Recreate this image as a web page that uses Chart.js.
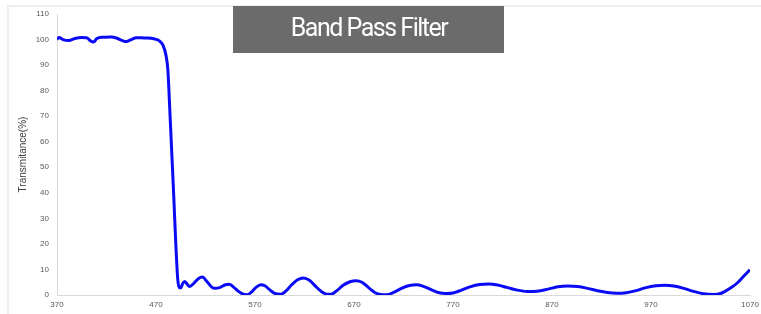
<!DOCTYPE html>
<html>
<head>
<meta charset="utf-8">
<script src="https://cdn.jsdelivr.net/npm/chart.js@4/dist/chart.umd.min.js"></script>
<style>
  html, body { margin: 0; padding: 0; background: #ffffff; }
  #wrap { position: relative; width: 761px; height: 314px; }
  canvas { display: block; }
</style>
</head>
<body>
<div id="wrap"><canvas id="c" width="761" height="314"></canvas></div>
<script>
// Wavelength (nm)
const wavelengths = [
  370, 372, 376, 382, 388, 395, 400, 404, 407, 410, 415, 420, 425, 430, 436, 440, 445, 450, 455, 460, 465, 470,
  474, 477, 480, 482, 484, 486, 488, 490, 492, 493.5, 495, 497, 499, 501, 504, 508, 513, 517, 521, 526, 530,
  535, 540, 544, 548, 553, 558, 562, 566, 571, 576, 580, 585, 590, 596, 601, 607, 613, 619, 625, 631, 637,
  643, 647, 653, 659, 666, 672, 678, 685, 691, 697, 703, 710, 718, 726, 733, 740, 748, 755, 763, 770, 778,
  788, 797, 806, 815, 825, 835, 845, 855, 866, 876, 886, 896, 906, 916, 926, 935, 945, 955, 965, 975, 984,
  993, 1003, 1013, 1023, 1033, 1041, 1050, 1058, 1064, 1070
];
// Transmittance (%)
const transmittance = [
  100.0, 100.8, 100.0, 99.6, 100.4, 100.8, 100.7, 99.4, 99.0, 100.3, 100.9, 100.9, 101.0, 100.6, 99.6, 99.2, 100.0, 100.7, 100.7, 100.6, 100.5, 100.1,
  99.3, 97.8, 94, 88, 72, 55, 38, 20, 6, 3.0, 2.8, 4.5, 5.3, 4.5, 3.3, 4.5, 6.5, 7.0, 5.5, 3.2, 2.6,
  3.0, 4.0, 4.2, 3.2, 1.5, 0.3, 0.1, 1.0, 3.0, 4.0, 3.6, 2.0, 0.6, 0.3, 1.5, 4.0, 6.0, 6.7, 5.8, 3.5, 1.4,
  0.3, 0.3, 1.8, 3.8, 5.2, 5.6, 5.0, 2.8, 1.0, 0.2, 0.1, 1.0, 2.6, 3.7, 4.0, 3.4, 2.1, 1.0, 0.6, 0.8, 1.8,
  3.3, 4.1, 4.3, 3.9, 2.9, 1.9, 1.4, 1.5, 2.3, 3.2, 3.5, 3.3, 2.6, 1.7, 1.0, 0.7, 0.9, 1.7, 2.9, 3.6, 3.8,
  3.5, 2.6, 1.4, 0.5, 0.2, 0.7, 2.6, 5.0, 7.5, 9.9
];
const xTicks = [370, 470, 570, 670, 770, 870, 970, 1070];
const yTicks = [0, 10, 20, 30, 40, 50, 60, 70, 80, 90, 100, 110];
const chartTitle = 'Band Pass Filter';
const yTitle = 'Transmitance(%)';

const points = wavelengths.map((w, i) => ({ x: w, y: transmittance[i] }));

const framePlugin = {
  id: 'frame',
  beforeDraw(chart) {
    const ctx = chart.ctx;
    ctx.save();
    ctx.fillStyle = '#ffffff';
    ctx.fillRect(0, 0, chart.width, chart.height);
    ctx.strokeStyle = '#eeeeee';
    ctx.lineWidth = 2;
    ctx.beginPath();
    ctx.moveTo(8, chart.height);
    ctx.lineTo(8, 6);
    ctx.lineTo(chart.width, 6);
    ctx.stroke();
    ctx.restore();
  },
  afterDraw(chart) {
    const ctx = chart.ctx;
    ctx.save();
    ctx.fillStyle = '#6b6b6b';
    ctx.fillRect(233, 6, 271, 47);
    ctx.fillStyle = '#ffffff';
    ctx.font = '25px Roboto';
    if ('letterSpacing' in ctx) ctx.letterSpacing = '-1.5px';
    ctx.textAlign = 'center';
    ctx.textBaseline = 'middle';
    ctx.fillText(chartTitle, 369, 30);
    ctx.restore();
  }
};

new Chart(document.getElementById('c'), {
  type: 'line',
  data: {
    datasets: [{
      data: points,
      borderColor: '#0a0af5',
      borderWidth: 3,
      pointRadius: 0,
      fill: false,
      cubicInterpolationMode: 'monotone'
    }]
  },
  options: {
    responsive: false,
    animation: false,
    layout: { padding: { left: 0, right: 11, top: 14, bottom: 0 } },
    plugins: { legend: { display: false }, tooltip: { enabled: false } },
    scales: {
      x: {
        type: 'linear',
        min: 370, max: 1070,
        afterBuildTicks: (s) => { s.ticks = xTicks.map(v => ({ value: v })); },
        afterFit: (s) => { s.height = 19; s.paddingLeft = 0; s.paddingRight = 0; },
        grid: { display: true, drawOnChartArea: false, drawTicks: false },
        border: { display: true, color: '#d9d9d9', width: 1 },
        ticks: { padding: 5, color: '#595959', font: { size: 8, family: 'Liberation Sans' }, maxRotation: 0,
                 callback: (v) => String(v) }
      },
      y: {
        min: 0, max: 110,
        afterBuildTicks: (s) => { s.ticks = yTicks.map(v => ({ value: v })); },
        afterFit: (s) => { s.width = 57; s.paddingTop = 0; s.paddingBottom = 0; },
        grid: { display: true, drawOnChartArea: false, drawTicks: false },
        border: { display: true, color: '#d9d9d9', width: 1 },
        ticks: { padding: 8, color: '#595959', font: { size: 8, family: 'Liberation Sans' },
                 callback: (v) => String(v) },
        title: { display: true, text: yTitle, color: '#404040', font: { size: 10, family: 'Liberation Sans Narrow, Liberation Sans' }, padding: { top: 17, bottom: 0 } }
      }
    }
  },
  plugins: [framePlugin]
});
</script>
</body>
</html>
